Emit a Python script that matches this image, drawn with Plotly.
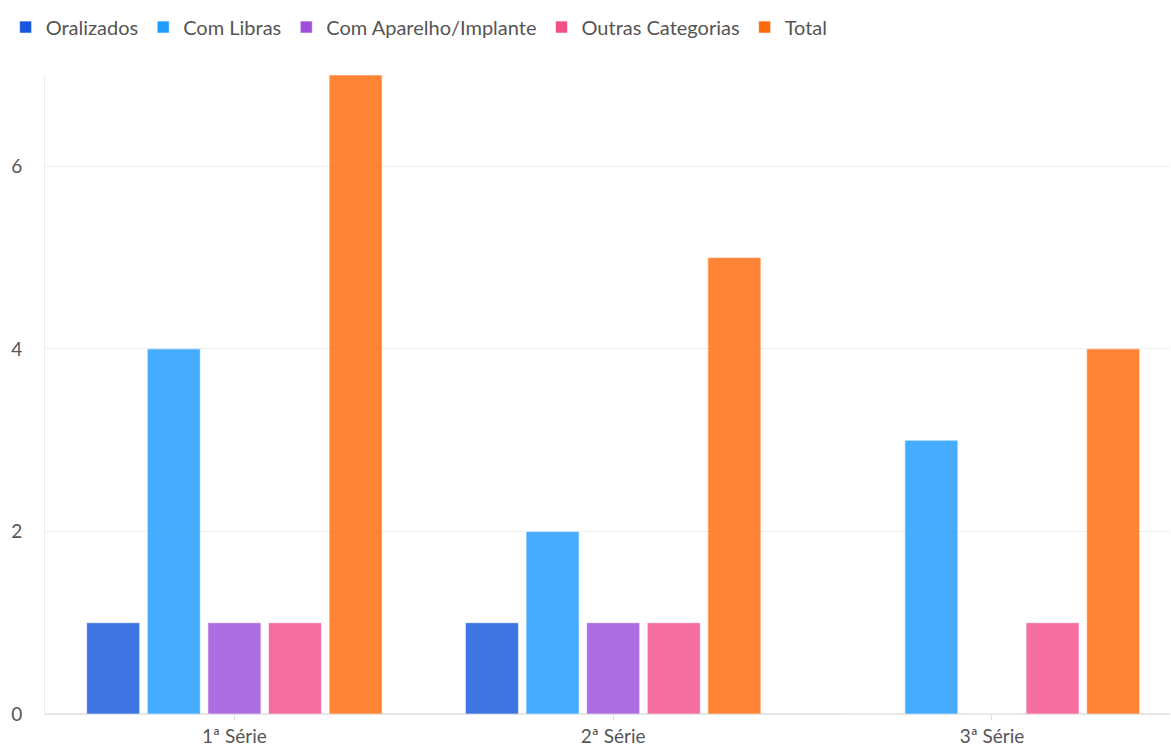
import plotly.graph_objects as go

categories = ["1ª Série", "2ª Série", "3ª Série"]
series_names = ["Oralizados", "Com Libras", "Com Aparelho/Implante", "Outras Categorias", "Total"]
oralizados = [1, 1, 0]
com_libras = [4, 2, 3]
com_aparelho = [1, 1, 0]
outras = [1, 1, 1]
total = [7, 5, 4]
colors = ["#1557DE", "#1E9BFF", "#9B4FDB", "#F2508A", "#FF6A0A"]

values = [oralizados, com_libras, com_aparelho, outras, total]

fig = go.Figure()
for name, vals, col in zip(series_names, values, colors):
    fig.add_trace(go.Bar(
        name=name, x=categories, y=vals,
        marker=dict(color=col, opacity=0.82, line=dict(color="rgba(255,255,255,0.6)", width=1)),
    ))

font_family = "Lato, 'Open Sans', sans-serif"
fig.update_layout(
    width=1171, height=747,
    margin=dict(l=45, r=1, t=75, b=33),
    paper_bgcolor="white", plot_bgcolor="white",
    barmode="group", bargap=0.2, bargroupgap=0.125,
    font=dict(family=font_family, size=18, color="#555555"),
    legend=dict(orientation="h", x=-0.035, y=1.075, xanchor="left", yanchor="middle",
                font=dict(size=20, color="#555555"), itemwidth=30, traceorder="normal",
                tracegroupgap=0),
    xaxis=dict(type="category", range=[-0.5, 2.47], showgrid=False, showline=True,
               linecolor="#e6e6e6", linewidth=1, ticks="outside", ticklen=5, tickcolor="#dddddd",
               tickfont=dict(size=19, color="#555555")),
    yaxis=dict(range=[0, 7], tickvals=[0, 2, 4, 6], showgrid=True, gridcolor="#eeeeee",
               zeroline=True, zerolinecolor="#e6e6e6", showline=True, linecolor="#eeeeee",
               ticks="", ticklabelstandoff=18, tickfont=dict(size=19, color="#555555")),
)

fig.write_html("out.html")
